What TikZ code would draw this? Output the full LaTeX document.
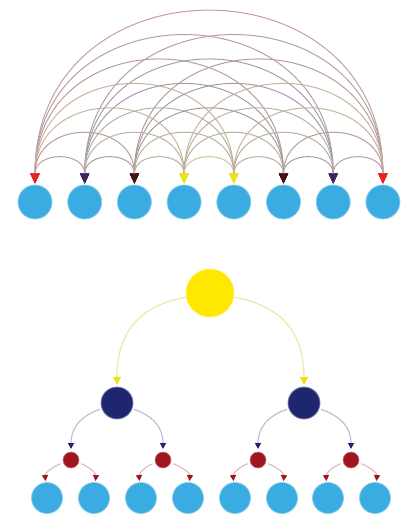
\documentclass[tikz,border=0pt]{standalone}
\usetikzlibrary{arrows.meta}
\definecolor{leafblue}{RGB}{58,172,225}
\definecolor{tipred}{RGB}{228,35,35}
\definecolor{tippurple}{RGB}{62,36,98}
\definecolor{tipbrown}{RGB}{72,18,18}
\definecolor{tipyellow}{RGB}{238,225,20}
\definecolor{rootyellow}{RGB}{255,232,0}
\definecolor{navyc}{RGB}{30,38,112}
\definecolor{darkredc}{RGB}{158,22,32}
\definecolor{edgeyellow}{RGB}{236,233,168}
\definecolor{edgeblue}{RGB}{188,192,210}
\definecolor{edgepink}{RGB}{214,192,198}
\colorlet{c1}{tipred}
\colorlet{c2}{tippurple}
\colorlet{c3}{tipbrown}
\colorlet{c4}{tipyellow}
\colorlet{c5}{tipyellow}
\colorlet{c6}{tipbrown}
\colorlet{c7}{tippurple}
\colorlet{c8}{tipred}
\begin{document}
\begin{tikzpicture}[x=1pt,y=1pt,
  bluenode/.style={circle,fill=leafblue,draw=leafblue!60!white,line width=0.8pt,inner sep=0pt},
  topleaf/.style={bluenode,minimum size=34pt,outer sep=1.5pt},
  treeleaf/.style={bluenode,minimum size=31pt,outer sep=1.5pt},
  rootnode/.style={circle,fill=rootyellow,draw=rootyellow!60!white,line width=0.8pt,minimum size=48pt,inner sep=0pt,outer sep=0pt},
  midnode/.style={circle,fill=navyc,draw=navyc!60!white,line width=0.8pt,minimum size=32pt,inner sep=0pt,outer sep=2pt},
  smallnode/.style={circle,fill=darkredc,draw=darkredc!60!white,line width=0.6pt,minimum size=16pt,inner sep=0pt,outer sep=3pt},
  arcline/.style={line width=1pt},
  treeedge/.style={line width=1.2pt}]
\useasboundingbox (0,0) rectangle (405,-516);

% ---------- top: all-to-all ----------
\foreach \i/\x in {1/35,2/84.7,3/134.4,4/184.1,5/233.8,6/283.5,7/333.2,8/382.9}
  \node[topleaf] (n\i) at (\x,-202) {};

\foreach \s in {7,6,5,4,3,2,1}{
  \pgfmathtruncatemacro\imax{8-\s}
  \foreach \i in {1,...,\imax}{
    \pgfmathtruncatemacro\j{\i+\s}
    \colorlet{arcmix}{c\i!50!c\j}
    \colorlet{arcmixb}{arcmix!35!gray}
    \draw[arcline,draw=arcmixb!60!white,
      {Triangle[color=c\i,length=10pt,width=9pt]}-{Triangle[color=c\j,length=10pt,width=9pt]}]
      (n\i) to[out=90,in=90,looseness=1.68] (n\j);
  }
}

% ---------- bottom: tree ----------
\node[rootnode] (root) at (210,-293) {};
\node[midnode] (m1) at (117,-403) {};
\node[midnode] (m2) at (304,-403) {};
\foreach \i/\x in {1/71,2/163,3/258,4/351}
  \node[smallnode] (r\i) at (\x,-460) {};
\foreach \i/\x in {1/47,2/94,3/141,4/188,5/235,6/282,7/328,8/375}
  \node[treeleaf] (l\i) at (\x,-498) {};

\draw[treeedge,draw=edgeyellow,-{Triangle[color=tipyellow,length=8pt,width=8pt]}]
  (root) to[out=190,in=90,looseness=1.15] (m1);
\draw[treeedge,draw=edgeyellow,-{Triangle[color=tipyellow,length=8pt,width=8pt]}]
  (root) to[out=-10,in=90,looseness=1.15] (m2);

\foreach \m/\a/\b in {m1/r1/r2,m2/r3/r4}{
  \draw[treeedge,draw=edgeblue,-{Triangle[color=navyc,length=6pt,width=6pt]}]
    (\m) to[out=200,in=90,looseness=1.1] (\a);
  \draw[treeedge,draw=edgeblue,-{Triangle[color=navyc,length=6pt,width=6pt]}]
    (\m) to[out=-20,in=90,looseness=1.1] (\b);
}

\foreach \r/\a/\b in {r1/l1/l2,r2/l3/l4,r3/l5/l6,r4/l7/l8}{
  \draw[treeedge,draw=edgepink,-{Triangle[color=darkredc,length=6pt,width=6pt]}]
    (\r) to[out=200,in=95,looseness=0.9] (\a);
  \draw[treeedge,draw=edgepink,-{Triangle[color=darkredc,length=6pt,width=6pt]}]
    (\r) to[out=-20,in=85,looseness=0.9] (\b);
}
\end{tikzpicture}
\end{document}
